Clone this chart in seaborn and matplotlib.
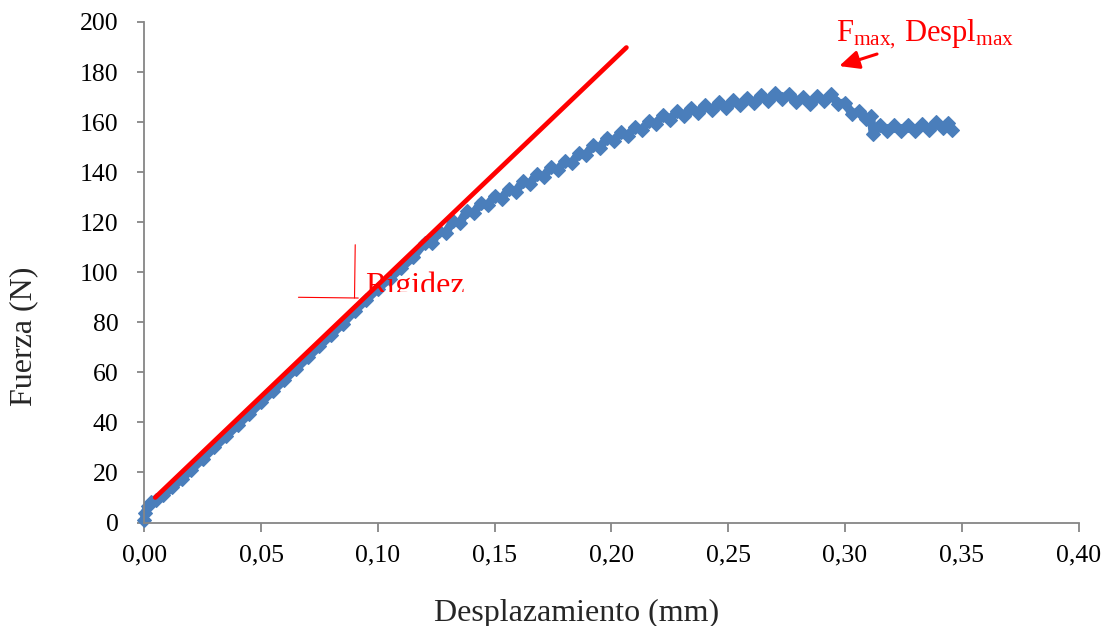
import matplotlib
matplotlib.use("Agg")
import matplotlib.pyplot as plt
import pandas as pd
import seaborn as sns
from matplotlib.patches import Rectangle

# ---------------- data ----------------
desplazamiento = [
    0.0000, 0.0002, 0.0015, 0.0030, 0.0050, 0.0080, 0.0120, 0.0160, 0.0200,
    0.0250, 0.0300, 0.0350, 0.0400, 0.0450, 0.0500, 0.0550, 0.0600, 0.0650,
    0.0700, 0.0750, 0.0800, 0.0850, 0.0900, 0.0950, 0.1000, 0.1050, 0.1100,
    0.1150,
    0.120, 0.123, 0.126, 0.129, 0.132, 0.135, 0.138, 0.141, 0.144, 0.147,
    0.150, 0.153, 0.156, 0.159, 0.162, 0.165, 0.168, 0.171, 0.174, 0.177,
    0.180, 0.183, 0.186, 0.189, 0.192, 0.195, 0.198, 0.201, 0.204, 0.207,
    0.210, 0.213, 0.216, 0.219, 0.222, 0.225, 0.228, 0.231, 0.234, 0.237,
    0.240, 0.243, 0.246, 0.249, 0.252, 0.255, 0.258, 0.261, 0.264, 0.267,
    0.270, 0.273, 0.276, 0.279, 0.282, 0.285, 0.288, 0.291, 0.294, 0.297,
    0.300, 0.303, 0.306, 0.309, 0.311, 0.312, 0.315, 0.318, 0.321, 0.324,
    0.327, 0.330, 0.333, 0.336, 0.339, 0.342, 0.344, 0.346,
]
fuerza = [
    0.8, 3.8, 6.5, 8.0, 9.0, 11.0, 14.0, 17.5, 21.0,
    25.5, 30.0, 34.5, 39.0, 43.5, 48.0, 52.5, 57.0, 61.5,
    66.0, 70.5, 75.0, 79.5, 84.5, 89.0, 93.5, 97.5, 101.8,
    106.0,
    111.8, 111.5, 116.3, 115.7, 120.3, 119.7, 124.3, 123.5, 127.8, 126.7,
    130.6, 129.4, 133.3, 132.2, 136.3, 135.2, 139.3, 138.2, 142.1, 140.7,
    144.5, 143.5, 147.6, 146.7, 150.8, 149.7, 153.8, 152.4, 156.0, 154.5,
    158.1, 156.7, 160.5, 159.2, 162.9, 161.0, 164.3, 162.5, 165.8, 163.7,
    166.9, 164.9, 168.0, 165.8, 168.8, 166.7, 169.8, 167.7, 170.7, 168.5,
    171.5, 169.2, 171.3, 168.0, 170.0, 167.1, 170.3, 168.3, 171.1, 167.2,
    167.8, 163.2, 164.3, 161.2, 162.3, 155.2, 158.8, 156.3, 158.8, 156.3,
    159.0, 156.5, 159.2, 156.9, 159.9, 157.7, 159.8, 157.0,
]
rigidez_x = [0.0047, 0.2064]
rigidez_y = [10.0, 189.8]

x_ticks = [0.00, 0.05, 0.10, 0.15, 0.20, 0.25, 0.30, 0.35, 0.40]
x_tick_labels = ["0,00", "0,05", "0,10", "0,15", "0,20", "0,25", "0,30", "0,35", "0,40"]
y_ticks = [0, 20, 40, 60, 80, 100, 120, 140, 160, 180, 200]
y_tick_labels = ["0", "20", "40", "60", "80", "100", "120", "140", "160", "180", "200"]

x_label = "Desplazamiento (mm)"
y_label = "Fuerza (N)"
rigidez_text = "Rigidez"
fmax_text = r"$\mathrm{F}_{\mathrm{max,}}\:\mathrm{Despl}_{\mathrm{max}}$"

BLUE = "#4A7EBB"
RED = "#FF0000"
GRAY = "#868686"

# ---------------- style ----------------
sns.set_style("white")
plt.rcParams["font.family"] = ["Liberation Serif", "DejaVu Serif"]
plt.rcParams["mathtext.fontset"] = "custom"
plt.rcParams["mathtext.rm"] = "Liberation Serif"
plt.rcParams["mathtext.it"] = "Liberation Serif:italic"
plt.rcParams["mathtext.bf"] = "Liberation Serif:bold"

fig = plt.figure(figsize=(11.06, 6.26), dpi=100)
W, H = 1106, 626
x0, x1, y0, y1 = 144.3, 1078.6, 22.0, 522.5
ax = fig.add_axes([x0 / W, 1 - y1 / H, (x1 - x0) / W, (y1 - y0) / H])

df = pd.DataFrame({"Desplazamiento": desplazamiento, "Fuerza": fuerza})
sns.lineplot(data=df, x="Desplazamiento", y="Fuerza", ax=ax, estimator=None,
             sort=False, color=BLUE, linewidth=6.2, marker="D", markersize=7.5,
             markeredgecolor=BLUE, markeredgewidth=0.8, zorder=2, clip_on=False,
             solid_joinstyle="round", solid_capstyle="round")
rig = pd.DataFrame({"x": rigidez_x, "y": rigidez_y})
sns.lineplot(data=rig, x="x", y="y", ax=ax, estimator=None, color=RED,
             linewidth=3.4, zorder=5)

ax.set_xlim(x_ticks[0], x_ticks[-1])
ax.set_ylim(y_ticks[0], y_ticks[-1])
ax.set_xticks(x_ticks)
ax.set_xticklabels(x_tick_labels)
ax.set_yticks(y_ticks)
ax.set_yticklabels(y_tick_labels)

for side in ["top", "right"]:
    ax.spines[side].set_visible(False)
for side in ["left", "bottom"]:
    ax.spines[side].set_color(GRAY)
    ax.spines[side].set_linewidth(1.3)

ax.tick_params(axis="y", left=True, direction="out", length=5, width=1.3,
               color=GRAY, pad=13.5, labelsize=18.5, labelcolor="black")
ax.tick_params(axis="x", bottom=True, direction="out", length=6.5, width=1.3,
               color=GRAY, pad=9.0, labelsize=18.5, labelcolor="black")

ax.set_xlabel(x_label, fontsize=23, va="baseline")
ax.xaxis.set_label_coords((576.5 - x0) / (x1 - x0), (y1 - 621) / (y1 - y0))
ax.set_ylabel(y_label, fontsize=23, va="center")
ax.yaxis.set_label_coords((24 - x0) / (x1 - x0), (y1 - 336) / (y1 - y0))

# "Rigidez" annotation (clipped at the bottom like the reference)
t = ax.text(0.0946, 91.2, rigidez_text, color=RED, fontsize=23,
            va="baseline", ha="left", zorder=4)
clip_rect = Rectangle((0, 92.2), 0.4, 120, transform=ax.transData)
t.set_clip_on(True)
t.set_clip_path(clip_rect)
ax.plot([0.0903, 0.0900], [111.0, 89.7], color=RED, linewidth=0.8, zorder=4)
ax.plot([0.0660, 0.0916], [90.0, 89.7], color=RED, linewidth=0.8, zorder=4)

# F_max annotation with arrow
ax.text(0.2963, 192.3, fmax_text, color=RED, fontsize=22, va="baseline",
        ha="left", clip_on=False)
ax.annotate("", xy=(0.2975, 182.4), xytext=(0.3137, 187.2),
            arrowprops=dict(arrowstyle="-|>,head_length=0.6,head_width=0.28",
                            color=RED, lw=2.2, mutation_scale=20,
                            shrinkA=0, shrinkB=0))

fig.savefig("out.png", dpi=100)
